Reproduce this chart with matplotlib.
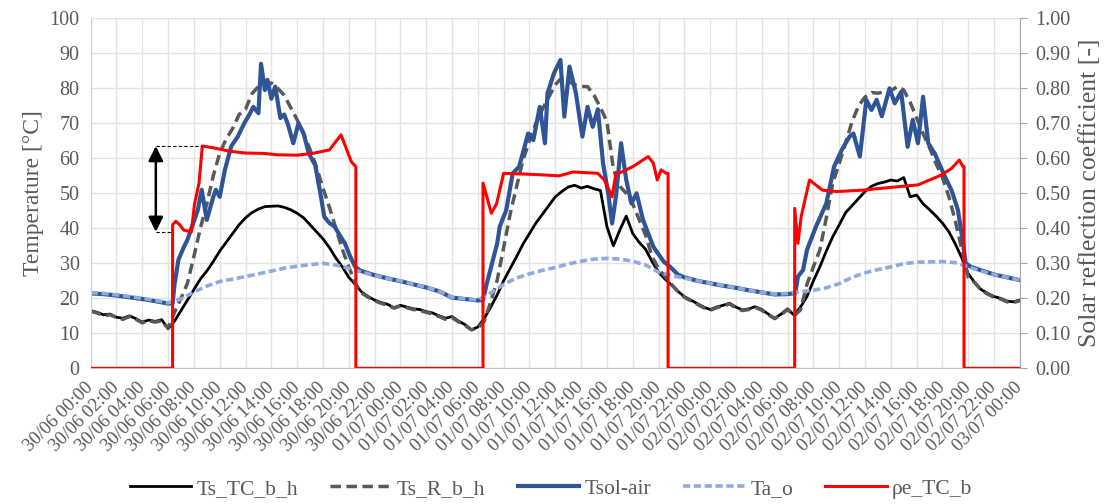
import matplotlib
matplotlib.use("Agg")
import matplotlib.pyplot as plt
import numpy as np
import pandas as pd

plt.rcParams['font.family'] = ['Liberation Serif', 'DejaVu Serif']

# ---- measured series (hours from 30/06 00:00) ----
# outdoor air temperature, hourly
ta_hours = np.arange(0, 73, 1)
ta_o = [21.6, 21.4, 21.0, 20.5, 20.0, 19.4, 18.7, 19.8, 21.8, 23.5, 24.8, 25.5,
        26.2, 27.0, 27.8, 28.6, 29.2, 29.6, 30.0, 29.5, 28.6, 27.5, 26.5, 25.7,
        25.0, 24.0, 23.2, 22.0, 20.3, 19.8, 19.5, 21.5, 24.0, 25.8, 27.0, 28.0,
        28.8, 29.8, 30.6, 31.2, 31.4, 31.2, 30.6, 29.5, 27.5, 26.5, 25.8, 25.0,
        24.3, 23.7, 23.0, 22.3, 21.7, 21.2, 21.4, 21.9, 22.3, 23.0, 24.2, 26.0,
        27.3, 28.2, 29.0, 29.9, 30.3, 30.4, 30.5, 30.2, 29.0, 27.8, 26.8, 26.0,
        25.2]

# surface temperatures, every 30 min
ts_hours = np.arange(0, 72.5, 0.5)
ts_tc_b_h = [16.5, 16.0, 15.3, 15.5, 14.6, 14.3, 15.0, 14.2, 13.2, 13.8, 13.4, 13.9,
             11.3, 13.5, 16.5, 19.5, 22.5, 25.5, 27.8, 30.5, 33.5, 36.0, 38.5, 41.0,
             43.0, 44.5, 45.5, 46.2, 46.3, 46.4, 46.0, 45.3, 44.3, 43.0, 41.0, 39.0,
             37.0, 34.5, 31.5, 29.0, 26.0, 24.0, 21.8, 20.5, 19.5, 18.8, 18.3, 17.3,
             18.0, 17.5, 17.0, 16.8, 16.2, 15.8, 15.0, 14.3, 14.8, 13.5, 12.5, 11.0,
             11.8, 14.3, 17.5, 21.0, 25.0, 28.5, 31.9, 35.5, 38.5, 41.5, 44.0, 46.5,
             49.0, 50.5, 51.8, 52.3, 51.5, 52.0, 51.3, 50.8, 40.5, 35.0, 39.5, 43.5,
             38.5, 36.0, 34.0, 30.5, 27.5, 25.5, 23.8, 22.0, 20.5, 19.5, 18.5, 17.5,
             16.8, 17.5, 18.0, 18.6, 17.5, 16.7, 17.0, 17.6, 16.8, 15.5, 14.3, 15.5,
             17.0, 15.2, 17.5, 20.5, 25.0, 29.0, 33.5, 37.6, 41.0, 44.5, 46.5, 48.5,
             50.5, 52.0, 52.8, 53.2, 53.8, 53.5, 54.5, 49.0, 49.5, 47.0, 45.3, 43.5,
             41.5, 39.0, 35.5, 31.5, 27.0, 24.5, 22.5, 21.4, 20.5, 20.0, 19.2, 19.0,
             19.5]
ts_r_b_h = [16.3, 15.8, 15.0, 15.3, 14.5, 14.0, 14.8, 14.0, 13.0, 13.6, 13.2, 13.6,
            11.5, 16.0, 20.0, 24.3, 32.0, 40.0, 47.0, 55.0, 61.5, 65.5, 68.5, 72.5,
            74.0, 78.5, 80.5, 81.5, 81.5, 80.0, 78.0, 74.5, 71.0, 67.0, 62.5, 57.5,
            51.5, 46.0, 40.0, 34.0, 29.0, 24.3, 21.5, 20.3, 19.3, 18.6, 18.0, 17.2,
            17.8, 17.3, 16.8, 16.5, 16.0, 15.5, 14.8, 14.0, 14.5, 13.3, 12.3, 11.0,
            11.5, 13.5, 19.0, 25.2, 34.5, 44.0, 51.9, 59.5, 65.0, 70.0, 74.0, 77.5,
            81.0, 83.0, 82.0, 81.0, 80.5, 80.5, 78.0, 74.5, 70.5, 57.0, 52.0, 50.0,
            47.0, 42.5, 38.0, 31.9, 28.5, 26.2, 24.0, 22.0, 20.3, 19.3, 18.3, 17.3,
            16.6, 17.3, 17.8, 18.4, 17.3, 16.5, 16.8, 17.4, 16.6, 15.3, 14.2, 15.3,
            16.8, 15.0, 16.7, 24.0, 29.0, 33.8, 43.0, 52.9, 58.5, 64.5, 70.5, 75.0,
            77.5, 78.8, 78.6, 79.0, 79.3, 80.5, 79.5, 76.0, 71.5, 67.0, 63.0, 58.5,
            54.5, 49.0, 42.0, 34.0, 26.0, 24.5, 22.3, 21.2, 20.3, 19.8, 19.0, 18.8,
            19.3]

# sol-air temperature (irregular sampling)
tsol_hours = [0, 1, 2, 3, 4, 5, 6, 6.35,
              6.5, 6.8, 7.2, 7.5, 7.9, 8.3, 8.6, 9.0, 9.5, 9.7, 10.0, 10.4, 10.9, 11.4,
              11.9, 12.3, 12.6, 13.0, 13.2, 13.5, 13.7, 14.0, 14.3, 14.7, 15.0, 15.3,
              15.7, 16.1, 16.5, 16.9, 17.4, 17.8, 18.1, 18.5, 18.9, 19.3, 19.7, 20.1,
              20.5, 20.9, 21.5, 22, 23, 24, 25, 26, 27, 28, 29, 30, 30.4,
              30.7, 31.1, 31.5, 31.7, 32.2, 32.7, 33.2, 33.9, 34.3, 34.8, 35.2, 35.4,
              35.9, 36.4, 36.7, 37.1, 37.6, 38.1, 38.5, 38.9, 39.3, 39.7, 40.1, 40.4,
              40.7, 41.1, 41.5, 41.9, 42.3, 42.8, 43.6, 44.4, 44.9, 45.5, 46, 47, 48,
              49, 50, 51, 52, 53, 54, 54.6,
              54.8, 55.2, 55.5, 56.2, 57.0, 57.6, 58.2, 58.8, 59.1, 59.6, 60.1, 60.5,
              60.9, 61.3, 61.9, 62.3, 62.8, 63.3, 63.7, 64.1, 64.5, 64.9, 65.4, 66.2,
              66.7, 67.2, 67.6, 67.8, 68.2, 69, 70, 71, 72]
tsol_air = [21.4, 21.2, 20.8, 20.3, 19.8, 19.2, 18.5, 18.6,
            24.0, 31.0, 34.5, 36.7, 41.0, 45.2, 51.0, 42.4, 49.0, 51.0, 49.0, 56.7, 63.5, 66.2,
            70.0, 72.5, 74.7, 72.9, 87.0, 79.5, 82.4, 77.0, 80.5, 71.5, 72.5, 69.5,
            64.3, 70.0, 67.1, 61.4, 58.0, 50.0, 43.3, 41.5, 40.5, 38.0, 35.7, 32.0,
            29.0, 27.9, 27.2, 26.6, 25.7, 24.9, 24.0, 23.1, 22.0, 20.2, 19.8, 19.4, 19.5,
            24.3, 30.0, 35.7, 40.5, 45.2, 55.7, 57.6, 67.1, 65.2, 74.7, 64.3, 78.6,
            84.3, 88.1, 71.9, 86.2, 78.6, 66.2, 74.7, 69.0, 74.0, 58.6, 50.0, 41.4,
            49.0, 64.3, 53.8, 47.1, 50.0, 42.4, 34.7, 30.5, 29.0, 26.8, 26.0, 25.0, 24.3,
            23.6, 23.0, 22.3, 21.7, 21.1, 21.2, 21.5,
            26.2, 28.1, 33.8, 40.5, 47.1, 57.6, 62.4, 66.2, 67.1, 60.5, 76.7, 73.8,
            76.7, 72.0, 80.0, 75.7, 79.0, 63.3, 71.0, 64.3, 77.6, 64.3, 61.4, 54.7,
            50.9, 45.2, 35.7, 30.0, 29.0, 28.0, 26.8, 26.0, 25.2]

# solar reflection coefficient (right axis)
rho_hours = [0, 6.35, 6.35, 6.6, 6.9, 7.2, 7.8, 8.05, 8.4, 8.65, 9.5, 10.8, 12.0,
             13.4, 14.5, 16.0, 17.2, 18.5, 19.4, 20.2, 20.55, 20.55,
             30.4, 30.4, 31.05, 31.45, 32.0, 34.3, 36.3, 37.4, 39.3, 39.8, 40.4,
             40.7, 41.1, 42.0, 43.2, 43.6, 43.9, 44.2, 44.6, 44.74, 44.74,
             54.55, 54.55, 54.8, 55.05, 55.7, 56.7, 57.8, 59.8, 62.6, 64.1, 65.9,
             66.7, 67.3, 67.6, 67.67, 67.67, 72]
rho_e_tc_b = [0, 0, 0.41, 0.42, 0.41, 0.395, 0.39, 0.47, 0.53, 0.635, 0.63, 0.62, 0.615,
              0.614, 0.61, 0.609, 0.614, 0.624, 0.667, 0.59, 0.576, 0,
              0, 0.529, 0.443, 0.47, 0.557, 0.554, 0.55, 0.561, 0.557, 0.538, 0.49,
              0.557, 0.56, 0.576, 0.605, 0.586, 0.538, 0.567, 0.557, 0.557, 0,
              0, 0.457, 0.357, 0.433, 0.538, 0.509, 0.505, 0.509, 0.519, 0.524, 0.552,
              0.571, 0.595, 0.576, 0.576, 0, 0]

tick_labels = pd.date_range('2020-06-30 00:00', '2020-07-03 00:00', freq='2h').strftime('%d/%m %H:%M')

# ---- figure ----
grey = '#595959'
fig = plt.figure(figsize=(11.11, 5.04), dpi=100)
ax = fig.add_axes([0.0816, 0.2692, 0.8364, 0.6945])
ax2 = ax.twinx()

l1, = ax.plot(ts_hours, ts_tc_b_h, color='black', lw=2.0, label='Ts_TC_b_h')
l2, = ax.plot(ts_hours, ts_r_b_h, color=grey, lw=2.5, dashes=(3, 1.6), label='Ts_R_b_h')
l3, = ax.plot(tsol_hours, tsol_air, color='#2f5597', lw=3.0, label='Tsol-air')
l4, = ax.plot(ta_hours, ta_o, color='#8faadc', lw=2.6, dashes=(2, 1), label='Ta_o')
l5, = ax2.plot(rho_hours, rho_e_tc_b, color='#ff0000', lw=2.2, label='ρe_TC_b')

ax.set_xlim(0, 72)
ax.set_ylim(0, 100)
ax2.set_ylim(0, 1)
ax.set_yticks(np.arange(0, 101, 10))
ax2.set_yticks(np.arange(0, 1.01, 0.1))
ax2.set_yticklabels([f'{v:.2f}' for v in np.arange(0, 1.01, 0.1)])
ax.set_xticks(np.arange(0, 73, 2))
ax.set_xticklabels(tick_labels, rotation=45, ha='right', va='center',
                   rotation_mode='anchor')

ax.grid(True, color='#e3e3e3', lw=1.0)
ax.set_axisbelow(True)
ax.tick_params(axis='both', length=0, labelsize=14.5, labelcolor=grey)
ax.tick_params(axis='x', pad=12, labelsize=13.5)
ax.tick_params(axis='y', pad=8)
ax2.tick_params(axis='y', length=5, color='#a6a6a6', labelsize=14.5, labelcolor=grey, pad=6)

for a in (ax, ax2):
    a.spines['top'].set_visible(False)
ax.spines['left'].set_color('#d0d0d0')
ax.spines['bottom'].set_color('#bfbfbf')
ax.spines['right'].set_visible(False)
ax2.spines['left'].set_visible(False)
ax2.spines['bottom'].set_visible(False)
ax2.spines['right'].set_color('#a6a6a6')

ax.set_ylabel('Temperature [°C]', fontsize=17, color=grey, labelpad=4)
ax2.set_ylabel('Solar reflection coefficient [-]', fontsize=18.5, color=grey, labelpad=6)

# double arrow marking the jump of the reflection coefficient
ax2.plot([5.05, 8.65], [0.635, 0.635], color='black', lw=0.8, ls=(0, (3, 2)))
ax2.plot([5.05, 6.35], [0.39, 0.39], color='black', lw=0.8, ls=(0, (3, 2)))
ax2.annotate('', xy=(5.05, 0.635), xytext=(5.05, 0.39),
             arrowprops=dict(arrowstyle='<|-|>', color='black', lw=1.8,
                             mutation_scale=22, shrinkA=0, shrinkB=0))

fig.legend(handles=[l1, l2, l3, l4, l5], loc='center', bbox_to_anchor=(0.496, 0.03),
           ncol=5, frameon=False, fontsize=15.5, handlelength=2.85, handletextpad=0.25,
           columnspacing=1.5, labelcolor=grey)

plt.savefig('out.png', dpi=100)
plt.close()
